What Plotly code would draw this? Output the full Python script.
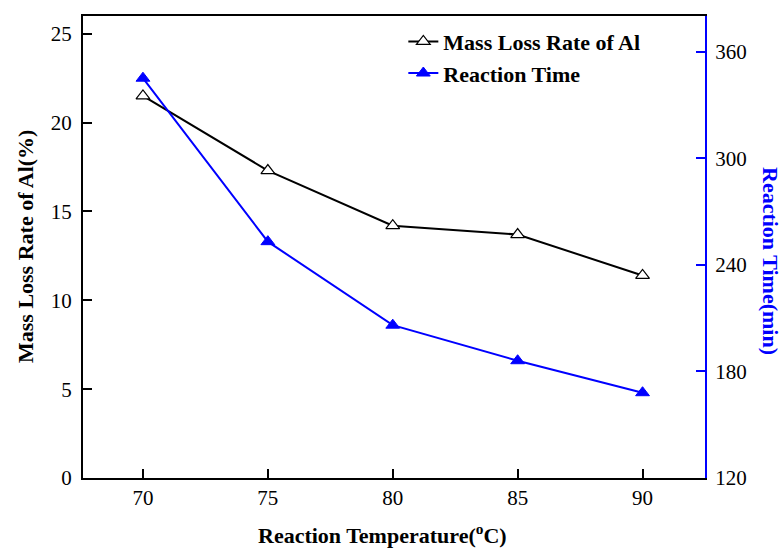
import plotly.graph_objects as go

temperature = [70, 75, 80, 85, 90]
mass_loss_rate = [21.5, 17.3, 14.2, 13.7, 11.4]
reaction_time = [345, 253, 206, 186, 168]
left_ticks = [0, 5, 10, 15, 20, 25]
right_ticks = [120, 180, 240, 300, 360]
x_ticks = [70, 75, 80, 85, 90]

FONT = "Liberation Serif, Times New Roman, serif"

fig = go.Figure()
fig.add_trace(go.Scatter(
    x=temperature, y=mass_loss_rate, name="<b>Mass Loss Rate of Al</b>",
    mode="lines+markers",
    line=dict(color="black", width=2),
    marker=dict(symbol="triangle-up", size=12, color="white",
                line=dict(color="black", width=1.2)),
    yaxis="y"))
fig.add_trace(go.Scatter(
    x=temperature, y=reaction_time, name="<b>Reaction Time</b>",
    mode="lines+markers",
    line=dict(color="blue", width=2),
    marker=dict(symbol="triangle-up", size=12, color="blue",
                line=dict(color="blue", width=1)),
    yaxis="y2"))

fig.update_layout(
    width=782, height=549,
    margin=dict(l=83, r=77, t=16, b=71),
    paper_bgcolor="white", plot_bgcolor="white",
    font=dict(family=FONT, size=21, color="black"),
    showlegend=True,
    legend=dict(x=0.515, y=0.99, xanchor="left", yanchor="top",
                bgcolor="rgba(0,0,0,0)", font=dict(family=FONT, size=22),
                tracegroupgap=0, itemwidth=30),
    xaxis=dict(range=[67.6, 92.5], tickvals=x_ticks, ticks="inside", ticklen=9,
               tickwidth=2, tickcolor="black", showline=True, linecolor="black",
               linewidth=2, mirror=True, showgrid=False, zeroline=False,
               automargin=False,
               tickfont=dict(family=FONT, size=21)),
    yaxis=dict(range=[0, 26], tickvals=left_ticks, ticks="inside", ticklen=9,
               tickwidth=2, tickcolor="black", showline=True, linecolor="black",
               linewidth=2, showgrid=False, zeroline=False, automargin=False,
               ticklabelstandoff=5,
               tickfont=dict(family=FONT, size=21)),
    yaxis2=dict(range=[120, 380], tickvals=right_ticks, ticks="inside", ticklen=9,
                tickwidth=2, tickcolor="blue", showline=True, linecolor="blue",
                linewidth=2, showgrid=False, zeroline=False, overlaying="y",
                side="right", ticklabelstandoff=4, automargin=False,
                tickfont=dict(family=FONT, size=21, color="black")),
)

fig.add_annotation(
    text="<b>Reaction Temperature(<sup>o</sup>C)</b>",
    xref="paper", yref="paper", x=0.5, y=0, xanchor="center", yanchor="middle",
    yshift=-56, xshift=-12, showarrow=False,
    font=dict(family=FONT, size=22, color="black"))
fig.add_annotation(
    text="<b>Mass Loss Rate of Al(%)</b>", textangle=-90,
    xref="paper", yref="paper", x=0, y=0.5, xanchor="center", yanchor="middle",
    xshift=-58, showarrow=False,
    font=dict(family=FONT, size=22, color="black"))
fig.add_annotation(
    text="<b>Reaction Time(min)</b>", textangle=90,
    xref="paper", yref="paper", x=1.0, y=0.5, xanchor="center", yanchor="middle",
    xshift=66, yshift=-14, showarrow=False,
    font=dict(family=FONT, size=22, color="blue"))

fig.write_html("out.html", config={"displayModeBar": False},
               post_script="document.body.style.margin='0';")
